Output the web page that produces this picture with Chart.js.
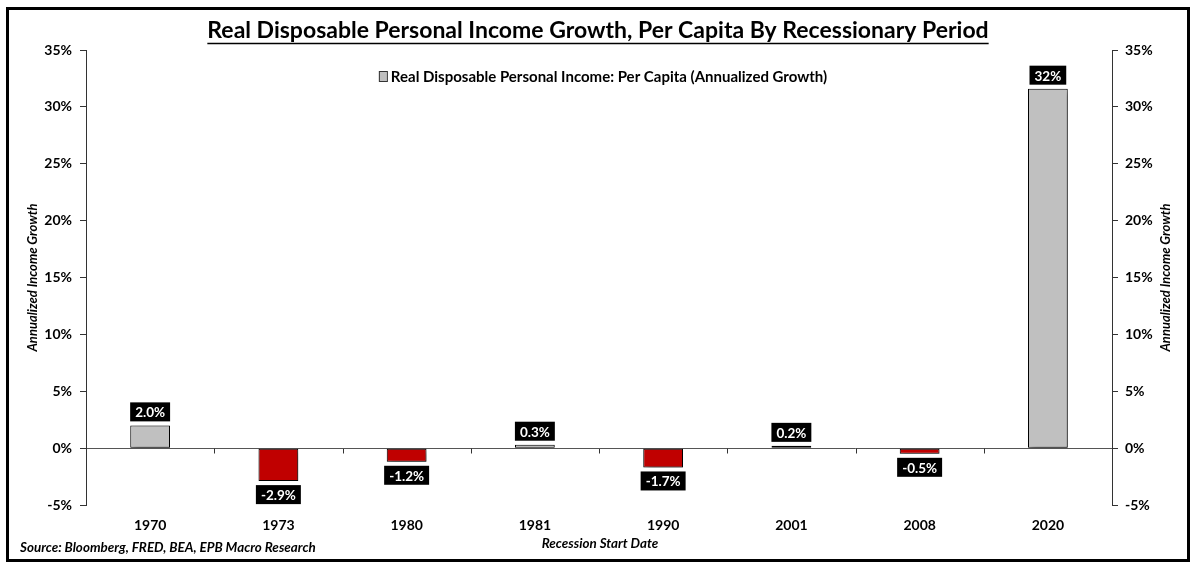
<!DOCTYPE html>
<html>
<head>
<meta charset="utf-8">
<script src="https://cdn.jsdelivr.net/npm/chart.js@4.4.0/dist/chart.umd.min.js"></script>
<style>
    html, body { margin: 0; padding: 0; background: #fff; }
    #wrap { width: 1200px; height: 569px; position: relative; }
</style>
</head>
<body>
<div id="wrap"><canvas id="chart"></canvas></div>
<script>
// chart data
const years = ['1970', '1973', '1980', '1981', '1990', '2001', '2008', '2020'];
const growth = [2.0, -2.9, -1.2, 0.3, -1.7, 0.2, -0.5, 31.6];
const yMin = -5;
const yMax = 35;
const yStep = 5;

// texts
const chartTitle = 'Real Disposable Personal Income Growth, Per Capita By Recessionary Period';
const seriesName = 'Real Disposable Personal Income: Per Capita (Annualized Growth)';
const yTitle = 'Annualized Income Growth';
const xTitle = 'Recession Start Date';
const sourceNote = 'Source: Bloomberg, FRED, BEA, EPB Macro Research';

const FONT = 'Lato, "Open Sans", sans-serif';
const GRAY = '#C0C0C0';
const RED = '#C00000';

function fmtPct(v) {
    return Math.abs(v) >= 10 ? v.toFixed(0) + '%' : v.toFixed(1) + '%';
}

// frame, title, legend, axis titles, source line
const decorPlugin = {
    id: 'decor',
    beforeDraw(chart) {
        const ctx = chart.ctx;
        ctx.save();
        ctx.fillStyle = '#fff';
        ctx.fillRect(0, 0, chart.width, chart.height);
        ctx.restore();
    },
    afterDraw(chart) {
        const ctx = chart.ctx;
        const area = chart.chartArea;
        ctx.save();

        // outer frame
        ctx.strokeStyle = '#000';
        ctx.lineWidth = 3;
        ctx.strokeRect(7.5, 8.5, 1181, 552);

        // title with underline
        ctx.fillStyle = '#000';
        ctx.font = 'bold 23px ' + FONT;
        ctx.textAlign = 'center';
        ctx.textBaseline = 'middle';
        const tx = 598, ty = 31;
        ctx.fillText(chartTitle, tx, ty);
        const tw = ctx.measureText(chartTitle).width;
        ctx.lineWidth = 1.5;
        ctx.beginPath();
        ctx.moveTo(tx - tw / 2, ty + 12.5);
        ctx.lineTo(tx + tw / 2, ty + 12.5);
        ctx.stroke();

        // legend
        ctx.font = 'bold 15px ' + FONT;
        ctx.textAlign = 'left';
        const lw = ctx.measureText(seriesName).width;
        const lx = 603 - (lw + 12) / 2, ly = 76;
        ctx.fillStyle = GRAY;
        ctx.fillRect(lx, ly - 5, 8, 10);
        ctx.strokeStyle = '#333';
        ctx.lineWidth = 1;
        ctx.strokeRect(lx + 0.5, ly - 4.5, 8, 10);
        ctx.fillStyle = '#000';
        ctx.fillText(seriesName, lx + 12, ly + 1);

        // y axis titles (both read bottom to top)
        ctx.font = 'italic bold 13px ' + FONT;
        ctx.textAlign = 'center';
        const midY = (area.top + area.bottom) / 2;
        [33, 1166].forEach(x => {
            ctx.save();
            ctx.translate(x, midY);
            ctx.rotate(-Math.PI / 2);
            ctx.fillText(yTitle, 0, 0);
            ctx.restore();
        });

        // x axis title and source
        ctx.font = 'italic bold 13.4px ' + FONT;
        ctx.textAlign = 'center';
        ctx.fillText(xTitle, 600, 544);
        ctx.textAlign = 'left';
        ctx.fillText(sourceNote, 20, 548);

        // small ticks on the zero line between categories
        const xs = chart.scales.x;
        const ys = chart.scales.y;
        const zeroY = Math.round(ys.getPixelForValue(0)) + 0.5;
        ctx.strokeStyle = '#333';
        ctx.lineWidth = 1;
        for (let i = 1; i < years.length; i++) {
            const bx = Math.round((xs.getPixelForValue(i - 1) + xs.getPixelForValue(i)) / 2) + 0.5;
            ctx.beginPath();
            ctx.moveTo(bx, zeroY);
            ctx.lineTo(bx, zeroY + 5);
            ctx.stroke();
        }
        ctx.restore();
    }
};

// soft drop shadow on the bars
const shadowPlugin = {
    id: 'barShadow',
    beforeDatasetsDraw(chart) {
        const ctx = chart.ctx;
        ctx.save();
        ctx.shadowColor = 'rgba(0,0,0,0.4)';
        ctx.shadowBlur = 6;
        ctx.shadowOffsetX = 3;
        ctx.shadowOffsetY = 3;
    },
    afterDatasetsDraw(chart) {
        chart.ctx.restore();
    }
};

// black value boxes with white text
const valueLabelPlugin = {
    id: 'valueLabels',
    afterDatasetsDraw(chart) {
        const ctx = chart.ctx;
        const meta = chart.getDatasetMeta(0);
        ctx.save();
        ctx.font = 'bold 13.5px ' + FONT;
        ctx.textAlign = 'center';
        ctx.textBaseline = 'middle';
        meta.data.forEach((bar, i) => {
            const v = growth[i];
            const text = fmtPct(v);
            const w = ctx.measureText(text).width + 10;
            const h = 19;
            const top = v >= 0 ? bar.y - 4 - h : bar.y + 4;
            ctx.fillStyle = '#000';
            ctx.fillRect(bar.x - w / 2, top, w, h);
            ctx.fillStyle = '#fff';
            ctx.fillText(text, bar.x, top + h / 2 + 1);
        });
        ctx.restore();
    }
};

const tickFont = { family: FONT, size: 14, weight: 'bold' };

const ctx = document.getElementById('chart').getContext('2d');
new Chart(ctx, {
    type: 'bar',
    data: {
        labels: years,
        datasets: [{
            label: seriesName,
            data: growth,
            backgroundColor: growth.map(v => v >= 0 ? GRAY : RED),
            borderColor: '#000',
            borderWidth: 1,
            borderSkipped: false,
            categoryPercentage: 1,
            barPercentage: 0.31
        }]
    },
    options: {
        responsive: true,
        maintainAspectRatio: false,
        animation: false,
        layout: { padding: { top: 50, left: 0, right: 0, bottom: 0 } },
        plugins: {
            legend: { display: false },
            title: { display: false },
            tooltip: { enabled: false }
        },
        scales: {
            x: {
                grid: { display: false, drawTicks: false },
                border: { display: false },
                ticks: { font: tickFont, color: '#000', padding: 12 },
                afterFit(s) { s.height = 64; }
            },
            y: {
                position: 'left',
                min: yMin,
                max: yMax,
                ticks: {
                    stepSize: yStep,
                    font: tickFont,
                    color: '#000',
                    padding: 8,
                    callback: v => v + '%'
                },
                grid: {
                    drawOnChartArea: true,
                    color: c => c.tick && c.tick.value === 0 ? '#555' : 'rgba(0,0,0,0)',
                    tickColor: '#333',
                    tickLength: 6
                },
                border: { color: '#333', width: 1 },
                afterFit(s) { s.width = 86; }
            },
            y2: {
                position: 'right',
                min: yMin,
                max: yMax,
                ticks: {
                    stepSize: yStep,
                    font: tickFont,
                    color: '#000',
                    padding: 7,
                    callback: v => v + '%'
                },
                grid: {
                    drawOnChartArea: false,
                    tickColor: '#333',
                    tickLength: 6
                },
                border: { color: '#333', width: 1 },
                afterFit(s) { s.width = 88; }
            }
        }
    },
    plugins: [decorPlugin, shadowPlugin, valueLabelPlugin]
});
</script>
</body>
</html>
